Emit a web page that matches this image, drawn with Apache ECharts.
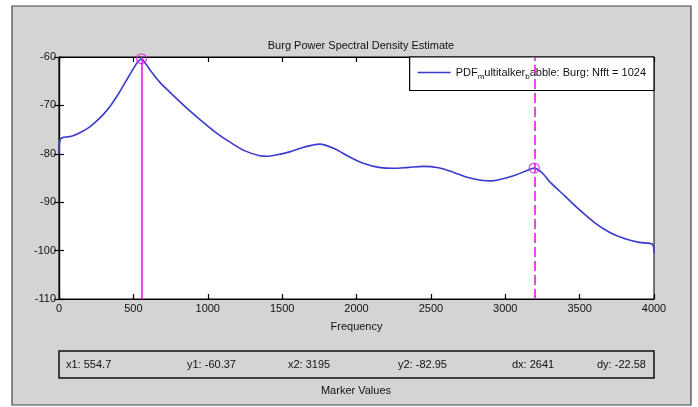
<!DOCTYPE html>
<html>
<head>
<meta charset="utf-8">
<script src="https://cdn.jsdelivr.net/npm/echarts@6/dist/echarts.min.js"></script>
<style>
html,body{margin:0;padding:0;background:#fff;}
#c{width:698px;height:407px;}
</style>
</head>
<body>
<div id="c"></div>
<script>
// ---- data ----
const freqs = [0, 8, 30, 60, 100, 150, 200, 250, 300, 350, 400, 450, 500, 530, 554.7, 580, 620, 680, 750, 850, 950, 1050, 1150, 1250, 1350, 1400, 1450, 1550, 1650, 1750, 1850, 1950, 2050, 2150, 2250, 2350, 2450, 2550, 2650, 2750, 2850, 2900, 2950, 3050, 3150, 3195, 3250, 3300, 3400, 3500, 3600, 3700, 3800, 3900, 3990, 4000];
const psd   = [-80.0, -77.0, -76.6, -76.5, -76.2, -75.5, -74.6, -73.3, -71.8, -69.9, -67.6, -65.0, -62.4, -61.0, -60.37, -61.3, -63.0, -65.3, -67.4, -70.3, -73.0, -75.5, -77.6, -79.4, -80.4, -80.5, -80.3, -79.6, -78.6, -78.0, -78.9, -80.6, -82.0, -82.8, -83.0, -82.8, -82.6, -82.9, -83.8, -84.9, -85.5, -85.6, -85.4, -84.6, -83.4, -82.95, -84.0, -85.8, -88.7, -91.6, -94.2, -96.2, -97.5, -98.3, -98.7, -100.5];
const markerX = [554.7, 3195];
const markerY = [-60.37, -82.95];
const markerLabels = ['x1: 554.7', 'y1: -60.37', 'x2: 3195', 'y2: -82.95', 'dx: 2641', 'dy: -22.58'];
const xTicks = {min: 0, max: 4000, interval: 500};
const yTicks = {min: -110, max: -60, interval: 10};
const seriesName = 'PDF_multitalker_babble: Burg: Nfft = 1024';
const titleText = 'Burg Power Spectral Density Estimate';

const FONT = '"Liberation Sans", Arial, sans-serif';
const chart = echarts.init(document.getElementById('c'), null, {renderer: 'canvas'});

const lineData = freqs.map((f, i) => [f, psd[i]]);
const markerData = markerX.map((f, i) => [f, markerY[i]]);

const tickCommon = {
  axisLine: {show: true, lineStyle: {color: '#000', width: 1.2}},
  axisTick: {show: true, inside: true, length: 5, lineStyle: {color: '#000', width: 1.2}},
  splitLine: {show: false}
};

const markerTextX = [66, 187, 288, 398, 512, 597];

chart.setOption({
  animation: false,
  backgroundColor: '#fff',
  grid: {left: 59, right: 44, top: 57, bottom: 108, show: true, backgroundColor: '#fff', borderColor: '#000', borderWidth: 1},
  title: {
    text: titleText, left: 356, top: 35, textAlign: 'center',
    textStyle: {fontFamily: FONT, fontSize: 11, fontWeight: 'normal', color: '#111'}
  },
  legend: {
    data: [seriesName],
    right: 44, top: 57,
    backgroundColor: '#fff', borderColor: '#000', borderWidth: 1.2,
    padding: [10, 8, 10, 8],
    icon: 'rect', itemWidth: 33, itemHeight: 1.5, itemGap: 6,
    formatter: function () { return 'PDF{sub|m}ultitalker{sub|b}abble: Burg: Nfft = 1024'; },
    textStyle: {
      fontFamily: FONT, fontSize: 11, color: '#111',
      rich: {sub: {fontFamily: FONT, fontSize: 8, color: '#111', verticalAlign: 'bottom', padding: [8, 0, 0, 0]}}
    }
  },
  xAxis: [
    Object.assign({type: 'value', position: 'bottom', min: xTicks.min, max: xTicks.max, interval: xTicks.interval,
      name: 'Frequency', nameLocation: 'middle', nameGap: 22,
      nameTextStyle: {fontFamily: FONT, fontSize: 11, color: '#111'},
      axisLabel: {fontFamily: FONT, fontSize: 11, color: '#111', margin: 4, formatter: v => String(v)}}, tickCommon),
    Object.assign({type: 'value', position: 'top', min: xTicks.min, max: xTicks.max, interval: xTicks.interval,
      axisLabel: {show: false}}, tickCommon)
  ],
  yAxis: [
    Object.assign({type: 'value', position: 'left', min: yTicks.min, max: yTicks.max, interval: yTicks.interval,
      axisLabel: {fontFamily: FONT, fontSize: 11, color: '#111', margin: 3, formatter: v => String(v)}}, tickCommon),
    Object.assign({type: 'value', position: 'right', min: yTicks.min, max: yTicks.max, interval: yTicks.interval,
      axisLabel: {show: false}}, tickCommon)
  ],
  series: [
    {
      name: seriesName, type: 'line', data: lineData, smooth: 0.3, showSymbol: false,
      lineStyle: {color: '#3a3acf', width: 1.6}, itemStyle: {color: '#3a3acf'},
      markLine: {
        silent: true, symbol: 'none', label: {show: false},
        data: [
          {xAxis: markerX[0], lineStyle: {color: '#e01ee0', width: 1.6, type: 'solid'}},
          {xAxis: markerX[1], lineStyle: {color: '#e01ee0', width: 1.6, type: [10, 4]}}
        ]
      },
      z: 3
    },
    {
      name: 'markers', type: 'scatter', data: markerData, symbol: 'circle', symbolSize: 10,
      itemStyle: {color: 'rgba(0,0,0,0)', borderColor: '#e01ee0', borderWidth: 1.3}, z: 5
    }
  ],
  graphic: [
    {type: 'rect', z: -10, silent: true, shape: {x: 12, y: 6, width: 679, height: 399},
      style: {fill: '#d4d4d4', stroke: '#444', lineWidth: 1.2}},
    {type: 'rect', z: 10, silent: true, shape: {x: 59, y: 351, width: 595, height: 27},
      style: {fill: 'rgba(0,0,0,0)', stroke: '#111', lineWidth: 1.5}},
    ...markerLabels.map((t, i) => ({type: 'text', z: 10, silent: true, x: markerTextX[i], y: 365,
      style: {text: t, fontFamily: FONT, fontSize: 11, fill: '#111', verticalAlign: 'middle'}})),
    {type: 'text', z: 10, silent: true, x: 356, y: 391,
      style: {text: 'Marker Values', fontFamily: FONT, fontSize: 11, fill: '#111', align: 'center', verticalAlign: 'middle'}}
  ]
});
</script>
</body>
</html>
